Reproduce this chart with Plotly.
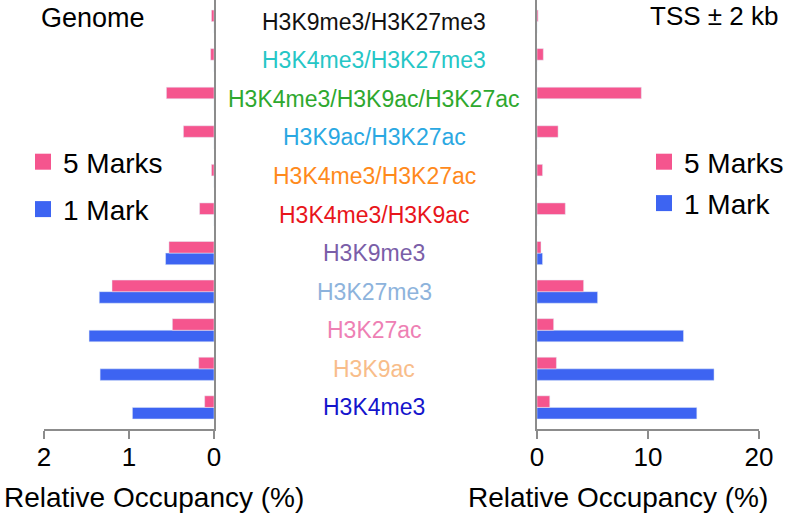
import plotly.graph_objects as go

categories = [
    "H3K9me3/H3K27me3",
    "H3K4me3/H3K27me3",
    "H3K4me3/H3K9ac/H3K27ac",
    "H3K9ac/H3K27ac",
    "H3K4me3/H3K27ac",
    "H3K4me3/H3K9ac",
    "H3K9me3",
    "H3K27me3",
    "H3K27ac",
    "H3K9ac",
    "H3K4me3",
]
label_colors = [
    "#111111", "#25c6c6", "#2ea82e", "#2aa8e2", "#ff8a1c", "#e8151b",
    "#7a5ea8", "#8db3dc", "#ee80b4", "#f8bd8a", "#1414cc",
]

genome_5marks = [0.03, 0.04, 0.56, 0.36, 0.03, 0.17, 0.53, 1.20, 0.49, 0.18, 0.11]
genome_1mark = [0, 0, 0, 0, 0, 0, 0.57, 1.35, 1.47, 1.34, 0.96]
tss_5marks = [0.1, 0.57, 9.4, 1.9, 0.5, 2.55, 0.36, 4.2, 1.5, 1.75, 1.15]
tss_1mark = [0, 0, 0, 0, 0, 0, 0.5, 5.46, 13.2, 15.95, 14.4]

left_ticks = [0, 1, 2]
right_ticks = [0, 10, 20]

PINK = "#f5558e"
BLUE = "#3d64f2"
GRAY = "#8c8c8c"
FONT = "Liberation Sans, Arial, sans-serif"

W, H = 787, 522
MB = 93
PH = H - MB

def px_x(p):
    return p / W

def px_y(p):
    return (PH - p) / PH

fig = go.Figure()

fig.add_trace(go.Bar(y=categories, x=genome_1mark, orientation="h", name="1 Mark",
                     marker_color=BLUE, xaxis="x", yaxis="y", showlegend=False))
fig.add_trace(go.Bar(y=categories, x=genome_5marks, orientation="h", name="5 Marks",
                     marker_color=PINK, xaxis="x", yaxis="y", showlegend=False))
fig.add_trace(go.Bar(y=categories, x=tss_1mark, orientation="h", name="1 Mark",
                     marker_color=BLUE, xaxis="x2", yaxis="y2", showlegend=False))
fig.add_trace(go.Bar(y=categories, x=tss_5marks, orientation="h", name="5 Marks",
                     marker_color=PINK, xaxis="x2", yaxis="y2", showlegend=False))

# legend entries with larger square swatches
for leg, ax in (("legend", ("x", "y")), ("legend2", ("x2", "y2"))):
    for name, col, rank in (("5 Marks", PINK, 1), ("1 Mark", BLUE, 2)):
        fig.add_trace(go.Scatter(x=[None], y=[None], mode="markers", name=name,
                                 marker=dict(symbol="square", size=16, color=col),
                                 xaxis=ax[0], yaxis=ax[1], legend=leg,
                                 legendgroup=leg + name, legendrank=rank,
                                 hoverinfo="skip"))

cat_order = list(reversed(categories))
yrange = [-0.56, len(categories) - 1 + 0.56]

common_x = dict(showgrid=False, zeroline=False, showline=True, linecolor=GRAY,
                linewidth=2, ticks="outside", ticklen=8, tickwidth=2, tickcolor=GRAY,
                tickfont=dict(size=26, color="black", family=FONT),
                ticklabelstandoff=-4)
common_y = dict(showgrid=False, zeroline=False, showline=True, linecolor=GRAY,
                linewidth=2, showticklabels=False, ticks="",
                categoryorder="array", categoryarray=cat_order, range=yrange,
                domain=[0, 1])

fig.update_layout(
    width=W, height=H,
    margin=dict(l=0, r=0, t=0, b=MB, autoexpand=False),
    paper_bgcolor="white", plot_bgcolor="white",
    barmode="group", bargap=0.4, bargroupgap=0,
    font=dict(family=FONT, color="black"),
    xaxis=dict(domain=[px_x(44), px_x(214)], range=[2, 0], anchor="y",
               tickvals=left_ticks, **common_x),
    yaxis=dict(anchor="x", side="right", **common_y),
    xaxis2=dict(domain=[px_x(537), px_x(759)], range=[0, 20], anchor="y2",
                tickvals=right_ticks, **common_x),
    yaxis2=dict(anchor="x2", side="left", **common_y),
    legend=dict(x=px_x(23), y=px_y(137), xanchor="left", yanchor="top",
                traceorder="grouped", tracegroupgap=8,
                font=dict(size=28, color="black", family=FONT),
                bgcolor="rgba(0,0,0,0)", itemwidth=30),
    legend2=dict(x=px_x(644), y=px_y(137), xanchor="left", yanchor="top",
                 traceorder="grouped", tracegroupgap=2,
                 font=dict(size=28, color="black", family=FONT),
                 bgcolor="rgba(0,0,0,0)", itemwidth=30),
)

annotations = []
for cat, col in zip(categories, label_colors):
    annotations.append(dict(x=px_x(374), xref="paper", y=cat, yref="y",
                            text=cat, showarrow=False, xanchor="center",
                            yanchor="middle",
                            font=dict(size=23, color=col, family=FONT)))

annotations += [
    dict(x=px_x(2), y=px_y(497), xref="paper", yref="paper",
         text="Relative Occupancy (%)", showarrow=False, xanchor="left",
         yanchor="middle", font=dict(size=28, color="black", family=FONT)),
    dict(x=px_x(618), y=px_y(497), xref="paper", yref="paper",
         text="Relative Occupancy (%)", showarrow=False, xanchor="center",
         yanchor="middle", font=dict(size=28, color="black", family=FONT)),
    dict(x=px_x(93), y=px_y(18), xref="paper", yref="paper",
         text="Genome", showarrow=False, xanchor="center",
         yanchor="middle", font=dict(size=27, color="black", family=FONT)),
    dict(x=px_x(714), y=px_y(16), xref="paper", yref="paper",
         text="TSS ± 2 kb", showarrow=False, xanchor="center",
         yanchor="middle", font=dict(size=26, color="black", family=FONT)),
]
fig.update_layout(annotations=annotations)

fig.write_html("out.html", config={"displayModeBar": False},
               post_script="document.body.style.margin='0';document.body.style.overflow='hidden';")
